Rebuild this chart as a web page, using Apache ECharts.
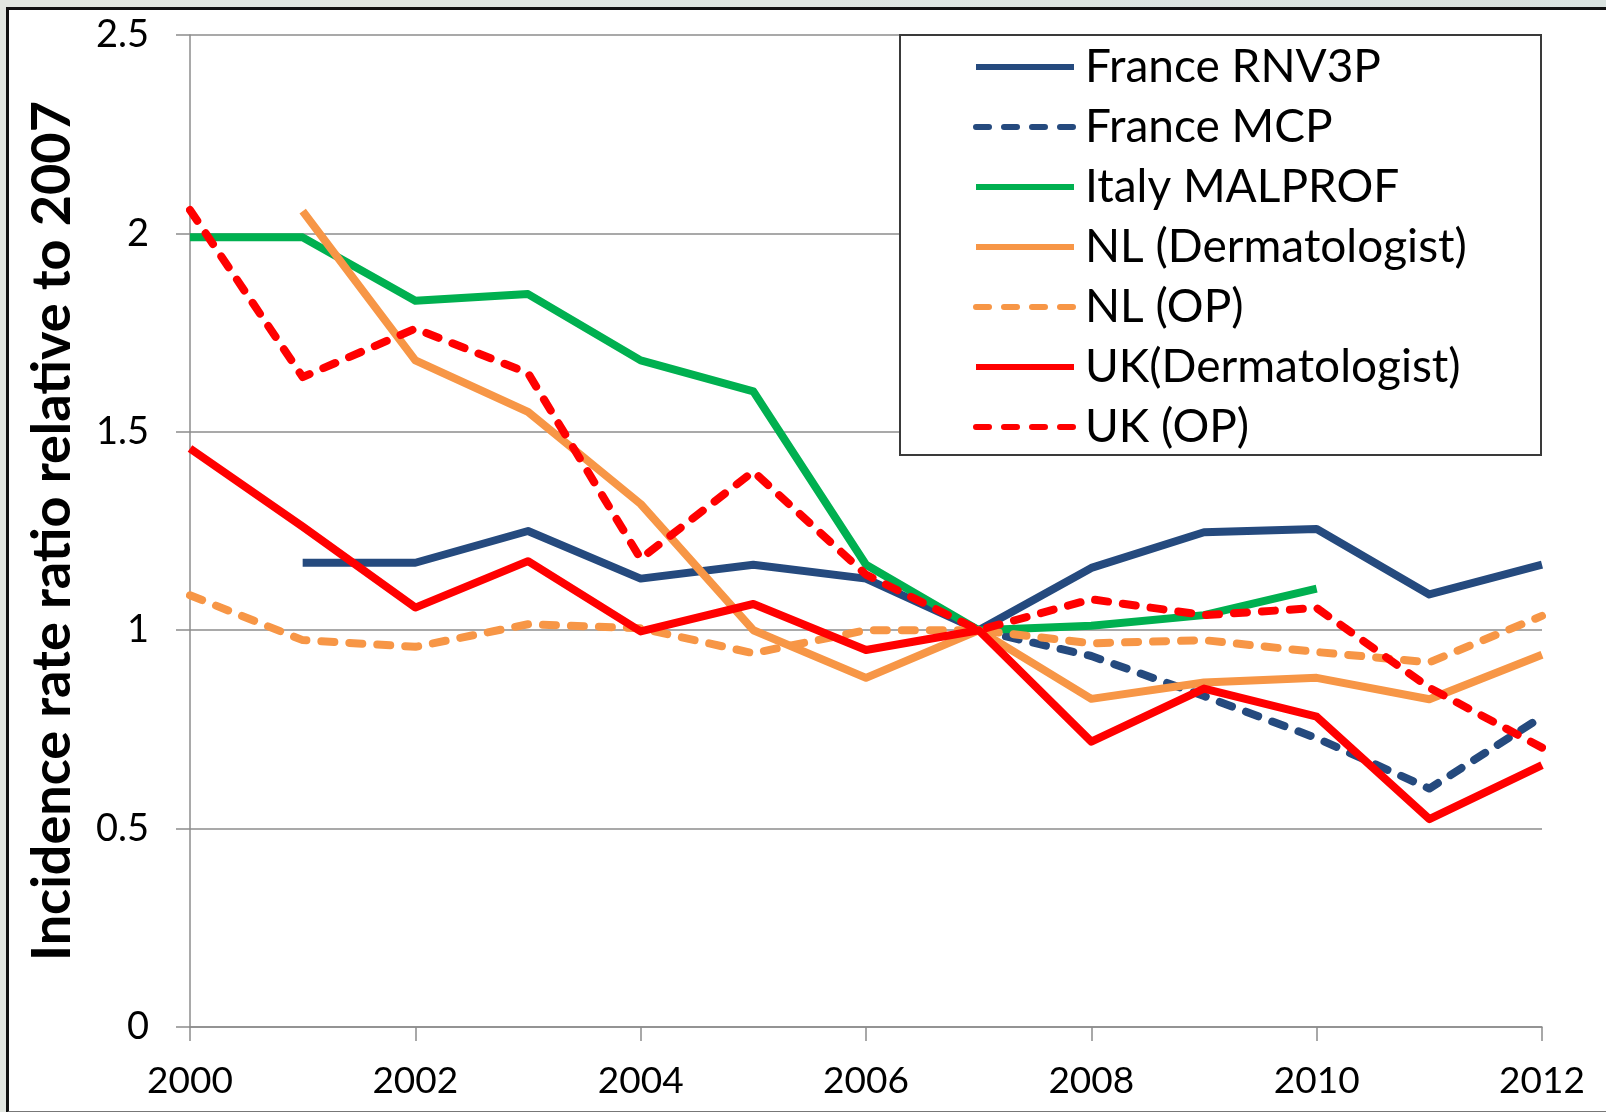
<!DOCTYPE html>
<html>
<head>
<meta charset="utf-8">
<title>Incidence rate ratio relative to 2007</title>
<script src="https://cdn.jsdelivr.net/npm/echarts@6/dist/echarts.min.js"></script>
<style>
    html, body { margin: 0; padding: 0; }
    body {
        width: 1606px; height: 1112px; overflow: hidden; position: relative;
        background: linear-gradient(90deg, #e2e6e0 0%, #dfe6e2 50%, #d9e2df 100%);
    }
    .frame {
        position: absolute; left: 6px; top: 7px; width: 1610px; height: 1101px;
        background: #fff; border-left: 3px solid #111; border-top: 3px solid #111;
        border-bottom: 2px solid #777;
    }
    #chart { position: absolute; left: 0; top: 0; width: 1606px; height: 1112px; }
</style>
</head>
<body>
<div class="frame"></div>
<div id="chart"></div>
<script type="text/javascript">
    // values, null = no data for that year
    var years = [2000, 2001, 2002, 2003, 2004, 2005, 2006, 2007, 2008, 2009, 2010, 2011, 2012];
    var franceRnv3p = [null, 1.17, 1.17, 1.25, 1.13, 1.165, 1.13, 1.00, 1.157, 1.247, 1.255, 1.09, 1.165];
    var franceMcp = [null, null, null, null, null, null, null, 1.00, 0.935, 0.834, 0.728, 0.601, 0.782];
    var italyMalprof = [1.99, 1.99, 1.83, 1.847, 1.68, 1.602, 1.165, 1.00, 1.011, 1.038, 1.105, null, null];
    var nlDerm = [null, 2.056, 1.68, 1.55, 1.318, 1.00, 0.88, 1.00, 0.827, 0.868, 0.88, 0.826, 0.938];
    var nlOp = [1.088, 0.975, 0.958, 1.015, 1.005, 0.942, 1.00, 1.00, 0.967, 0.975, 0.945, 0.919, 1.036];
    var ukDerm = [1.458, 1.261, 1.057, 1.174, 0.997, 1.066, 0.95, 1.00, 0.719, 0.853, 0.782, 0.524, 0.66];
    var ukOp = [2.059, 1.638, 1.76, 1.648, 1.18, 1.40, 1.14, 1.00, 1.078, 1.038, 1.056, 0.855, 0.704];

    var seriesNames = ['France RNV3P', 'France MCP', 'Italy MALPROF', 'NL (Dermatologist)', 'NL (OP)', 'UK(Dermatologist)', 'UK (OP)'];
    var seriesValues = [franceRnv3p, franceMcp, italyMalprof, nlDerm, nlOp, ukDerm, ukOp];
    var seriesColors = ['#254a7e', '#254a7e', '#00b050', '#f79646', '#f79646', '#ff0000', '#ff0000'];
    var seriesDashed = [false, true, false, false, true, false, true];

    var font = 'Lato, "Open Sans", sans-serif';
    var axisGrey = '#8c8c8c';

    function pairs(values) {
        var out = [];
        for (var i = 0; i < years.length; i++) {
            out.push([years[i], values[i]]);
        }
        return out;
    }

    var series = [];
    for (var i = 0; i < seriesNames.length; i++) {
        series.push({
            name: seriesNames[i],
            type: 'line',
            data: pairs(seriesValues[i]),
            symbol: 'none',
            showSymbol: false,
            connectNulls: false,
            animation: false,
            color: seriesColors[i],
            itemStyle: { color: seriesColors[i] },
            lineStyle: {
                width: 8,
                color: seriesColors[i],
                type: seriesDashed[i] ? [13, 15] : 'solid',
                cap: seriesDashed[i] ? 'round' : 'butt',
                join: 'round'
            },
            emphasis: { disabled: true },
            z: 2 + i
        });
    }

    var chart = echarts.init(document.getElementById('chart'), null, {renderer: 'canvas'});

    var option = {
        backgroundColor: 'transparent',
        animation: false,
        textStyle: { fontFamily: font },
        grid: { left: 190, top: 35, right: 64, bottom: 85, containLabel: false },
        graphic: [{
            type: 'rect',
            z: 1,
            shape: { x: 900, y: 35, width: 641, height: 420 },
            style: { fill: '#fff', stroke: '#3a3a3a', lineWidth: 2 }
        }],
        legend: {
            orient: 'vertical',
            left: 973,
            top: 42,
            padding: 0,
            itemGap: 10,
            itemWidth: 98,
            itemHeight: 14,
            data: seriesNames,
            itemStyle: { opacity: 0 },
            lineStyle: { width: 6 },
            textStyle: {
                fontFamily: font,
                fontSize: 46,
                color: '#000',
                lineHeight: 50,
                padding: [0, 0, 0, 6]
            }
        },
        xAxis: {
            type: 'value',
            min: 2000,
            max: 2012,
            interval: 2,
            axisLine: { show: true, lineStyle: { color: axisGrey, width: 1.5 } },
            axisTick: { show: true, inside: false, length: 14, lineStyle: { color: axisGrey, width: 1.5 } },
            splitLine: { show: false },
            axisLabel: {
                margin: 36,
                fontSize: 37,
                color: '#000',
                fontFamily: font,
                formatter: function (v) { return String(v); }
            }
        },
        yAxis: {
            type: 'value',
            min: 0,
            max: 2.5,
            interval: 0.5,
            name: 'Incidence rate ratio relative to 2007',
            nameLocation: 'middle',
            nameRotate: 90,
            nameGap: 110,
            nameTextStyle: {
                fontFamily: font,
                fontSize: 54,
                fontWeight: 'bold',
                color: '#000'
            },
            axisLine: { show: true, lineStyle: { color: axisGrey, width: 1.5 } },
            axisTick: { show: true, inside: false, length: 14, lineStyle: { color: axisGrey, width: 1.5 } },
            splitLine: { show: true, lineStyle: { color: axisGrey, width: 1.5 } },
            axisLabel: {
                margin: 41,
                fontSize: 38,
                color: '#000',
                fontFamily: font
            }
        },
        series: series
    };

    chart.setOption(option);
</script>
</body>
</html>
